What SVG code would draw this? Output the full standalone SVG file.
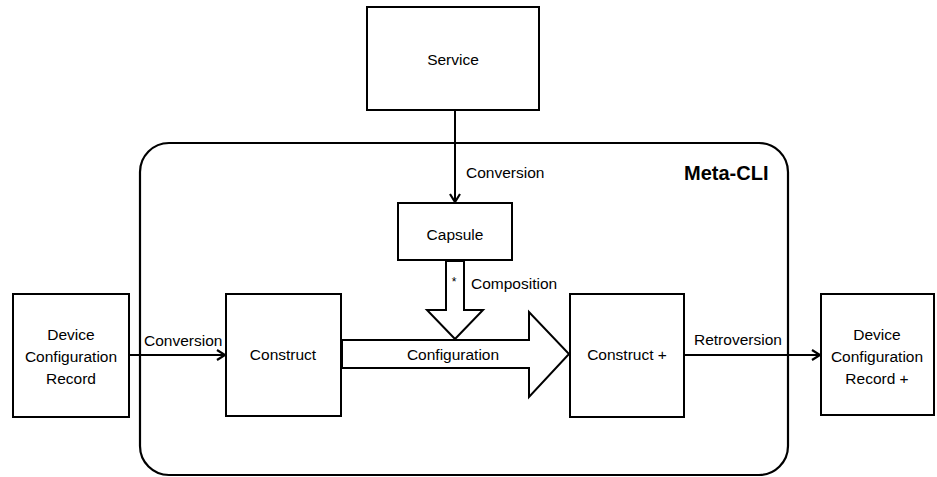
<svg xmlns="http://www.w3.org/2000/svg" width="937" height="477" viewBox="0 0 937 477">
<defs>
<style>
.box{fill:#fff;stroke:#000;stroke-width:2}
.cont{fill:none;stroke:#000;stroke-width:2.2}
.t{font-family:"Liberation Sans",Arial,sans-serif;font-size:15.5px;fill:#000;text-anchor:middle;dominant-baseline:central}
.l{font-family:"Liberation Sans",Arial,sans-serif;font-size:15.5px;fill:#000;dominant-baseline:central}
.b{font-family:"Liberation Sans",Arial,sans-serif;font-size:20px;font-weight:bold;fill:#000;dominant-baseline:central}
.edge{fill:none;stroke:#000;stroke-width:2}
.hollow{fill:#fff;stroke:#000;stroke-width:2;stroke-linejoin:miter}
</style>
<marker id="arr" markerWidth="12" markerHeight="12" refX="10" refY="6" orient="auto" markerUnits="userSpaceOnUse">
<path d="M2,1 L10,6 L2,11" fill="none" stroke="#000" stroke-width="2.2"/>
</marker>
</defs>
<rect width="937" height="477" fill="#fff"/>

<g id="meta-cli">
<rect class="cont" x="140" y="143" width="648" height="332" rx="29" ry="29"/>
<text class="b" x="684" y="173">Meta-CLI</text>
</g>

<g id="service">
<rect class="box" x="367" y="7" width="172" height="103"/>
<text class="t" x="453" y="59">Service</text>
</g>

<g id="capsule">
<rect class="box" x="398" y="203" width="114" height="57"/>
<text class="t" x="455" y="234">Capsule</text>
</g>

<g id="dcr">
<rect class="box" x="13" y="294" width="116" height="123"/>
<text class="t" x="71" y="334">Device</text>
<text class="t" x="71" y="356">Configuration</text>
<text class="t" x="71" y="378">Record</text>
</g>

<g id="construct">
<rect class="box" x="226" y="294" width="115" height="122"/>
<text class="t" x="283" y="354">Construct</text>
</g>

<g id="construct-plus">
<rect class="box" x="570" y="294" width="114" height="123"/>
<text class="t" x="627" y="354">Construct +</text>
</g>

<g id="dcr-plus">
<rect class="box" x="821" y="294" width="113" height="121"/>
<text class="t" x="877" y="334">Device</text>
<text class="t" x="877" y="356">Configuration</text>
<text class="t" x="877" y="378">Record +</text>
</g>

<g id="connectors">
<line class="edge" x1="455" y1="110" x2="455" y2="202" marker-end="url(#arr)"/>
<text class="l" x="466" y="172">Conversion</text>

<line class="edge" x1="129" y1="355" x2="225" y2="355" marker-end="url(#arr)"/>
<text class="l" x="144" y="340">Conversion</text>

<line class="edge" x1="684" y1="355" x2="820" y2="355" marker-end="url(#arr)"/>
<text class="l" x="694" y="339">Retroversion</text>

<polygon class="hollow" points="342,340 529,340 529,312 569,354 529,397 529,368 342,368"/>
<text class="t" x="453" y="354">Configuration</text>

<polygon class="hollow" points="446,261 464,261 464,310 483,310 455,339 427,310 446,310"/>
<text class="t" x="454" y="282" style="font-size:12px">*</text>
<text class="l" x="471" y="283">Composition</text>
</g>
</svg>
